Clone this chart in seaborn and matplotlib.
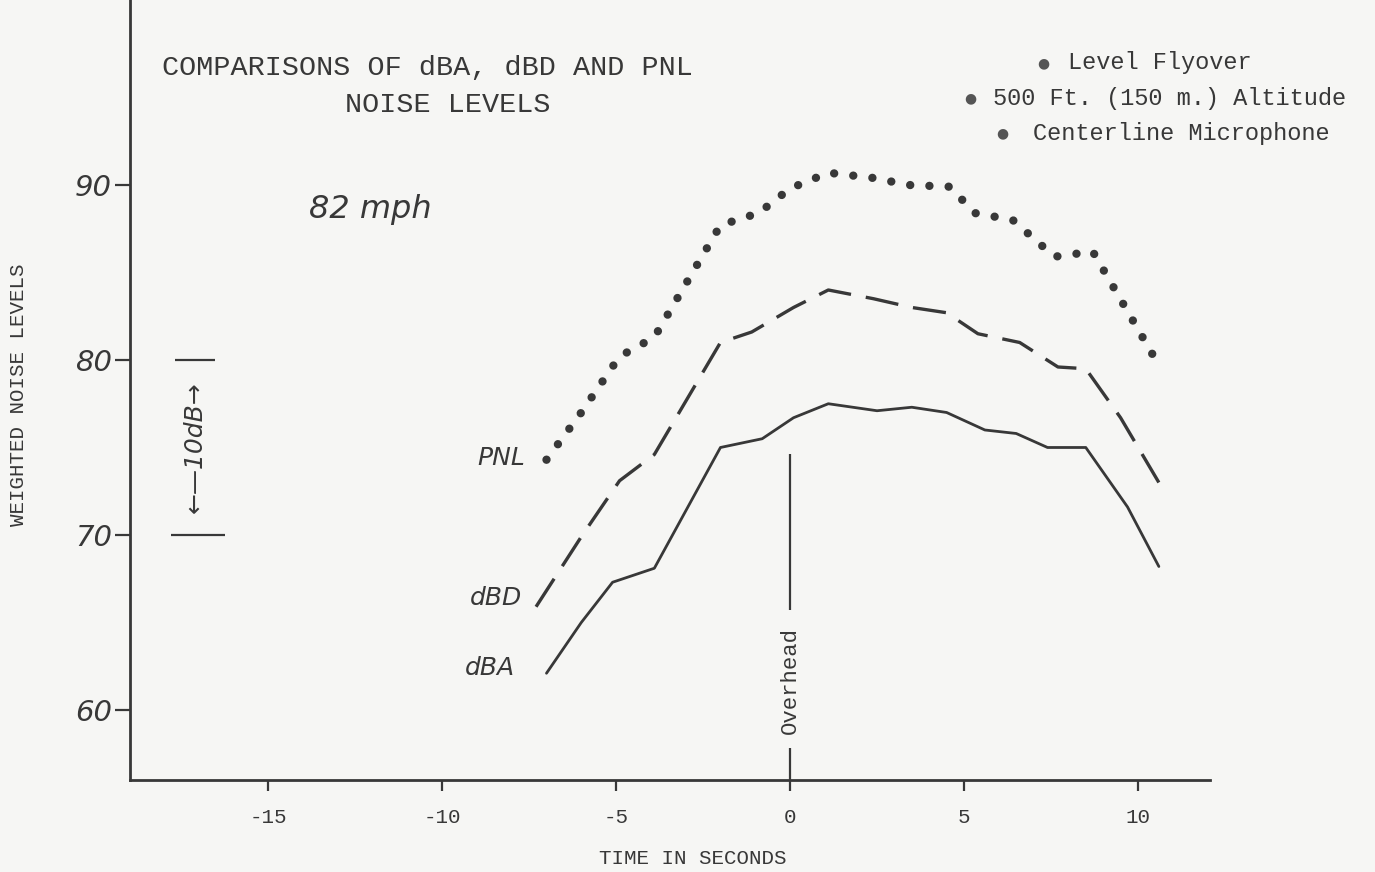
import matplotlib
matplotlib.use("Agg")
import matplotlib.pyplot as plt
import seaborn as sns

# ---- data ----
pnl_time = [-7.0, -6.0, -4.9, -3.9, -2.0, -0.9, 0.0, 1.1, 2.4, 3.4, 4.6, 5.3, 6.4, 7.6, 8.7, 10.6]
pnl_level = [74.3, 77.0, 80.2, 81.3, 87.7, 88.4, 89.8, 90.7, 90.4, 90.0, 89.9, 88.4, 88.0, 85.9, 86.2, 79.7]

dbd_time = [-7.3, -6.0, -4.9, -3.9, -2.0, -1.1, 0.1, 1.1, 2.4, 3.5, 4.5, 5.4, 6.6, 7.7, 8.5, 9.5, 10.6]
dbd_level = [65.9, 69.9, 73.1, 74.6, 81.0, 81.6, 83.0, 84.0, 83.5, 83.0, 82.7, 81.5, 81.0, 79.6, 79.5, 76.7, 73.0]

dba_time = [-7.0, -6.0, -5.1, -3.9, -2.0, -0.8, 0.1, 1.1, 2.5, 3.5, 4.5, 5.6, 6.5, 7.4, 8.5, 9.7, 10.6]
dba_level = [62.1, 65.0, 67.3, 68.1, 75.0, 75.5, 76.7, 77.5, 77.1, 77.3, 77.0, 76.0, 75.8, 75.0, 75.0, 71.6, 68.2]

x_ticks = [-15, -10, -5, 0, 5, 10]
y_ticks = [60, 70, 80, 90]
y_tick_labels = ["60", "70", "80", "90"]

title_lines = ["COMPARISONS OF dBA, dBD AND PNL", "NOISE LEVELS"]
notes = ["Level Flyover", "500 Ft. (150 m.) Altitude", "Centerline Microphone"]

# ---- style ----
sns.set_theme(style="white")
paper = "#f6f6f4"
ink = "#383838"
plt.rcParams["font.family"] = ["Liberation Mono", "DejaVu Sans"]
plt.rcParams["axes.unicode_minus"] = False
hand = dict(family=["DejaVu Sans"], style="italic", color=ink)
mono = ["Liberation Mono", "DejaVu Sans"]

fig = plt.figure(figsize=(13.75, 8.72), dpi=100, facecolor=paper)
ax = fig.add_axes([130 / 1375, 1 - 780 / 872, 1080 / 1375, 780 / 872])
ax.set_facecolor(paper)

sns.lineplot(x=pnl_time, y=pnl_level, ax=ax, color=ink, linewidth=6.0)
ln = ax.lines[-1]
ln.set_linestyle((0, (0.01, 2.3)))
ln.set_dash_capstyle("round")

sns.lineplot(x=dbd_time, y=dbd_level, ax=ax, color=ink, linewidth=2.4)
ln = ax.lines[-1]
ln.set_linestyle((0, (10, 4.5)))

sns.lineplot(x=dba_time, y=dba_level, ax=ax, color=ink, linewidth=2.0)

ax.set_xlim(-18.97, 12.07)
ax.set_ylim(56.0, 100.57)

# spines / ticks
for side in ["top", "right"]:
    ax.spines[side].set_visible(False)
for side in ["left", "bottom"]:
    ax.spines[side].set_color(ink)
    ax.spines[side].set_linewidth(2.0)

ax.set_xticks(x_ticks)
ax.set_xticklabels([str(t) for t in x_ticks], fontsize=15, family=mono, color=ink)
ax.set_yticks(y_ticks)
ax.set_yticklabels(y_tick_labels, fontsize=21, **hand)
ax.tick_params(axis="x", bottom=True, direction="out", length=8, width=1.6, color=ink, pad=12)
ax.tick_params(axis="y", left=True, direction="out", length=11, width=1.6, color=ink, pad=2)

ax.set_xlabel("TIME IN SECONDS", fontsize=15, family=mono, color=ink)
ax.xaxis.label.set_va("center")
ax.xaxis.set_label_coords((693 - 130) / 1080, (780 - 858) / 780)
ax.set_ylabel("WEIGHTED NOISE LEVELS", fontsize=15, family=mono, color=ink)
ax.yaxis.label.set_va("center")
ax.yaxis.set_label_coords((18 - 130) / 1080, (780 - 395) / 780)

# overhead marker
ax.vlines(0, 65.7, 74.6, color=ink, linewidth=1.6)
ax.vlines(0, 56.0, 57.8, color=ink, linewidth=1.6)
ax.text(0, 61.7, "Overhead", rotation=90, ha="center", va="center",
        fontsize=16, family=mono, color=ink)

# curve labels (handwritten in the original)
ax.text(-8.3, 74.4, "PNL", fontsize=18, ha="center", va="center", **hand)
ax.text(-8.45, 66.4, "dBD", fontsize=18, ha="center", va="center", **hand)
ax.text(-8.62, 62.4, "dBA", fontsize=18, ha="center", va="center", **hand)
ax.text(-12.07, 88.6, "82 mph", fontsize=23, ha="center", va="center", **hand)

# 10 dB scale bar
ax.hlines(80, -17.67, -16.52, color=ink, linewidth=1.6)
ax.hlines(70, -17.8, -16.24, color=ink, linewidth=1.6)
ax.vlines(-17.7, 70, 80, color=ink, linewidth=0)
ax.text(-17.1, 75.0, "\u2190\u201410dB\u2192", rotation=90, ha="center", va="center",
        fontsize=18, **hand)

# title
fig.text(162 / 1375, 1 - 68 / 872, title_lines[0], ha="left", va="center",
         fontsize=20.5, family=mono, color=ink)
fig.text(345 / 1375, 1 - 105 / 872, title_lines[1], ha="left", va="center",
         fontsize=20.5, family=mono, color=ink)

# bullet notes
bullet_x = [1043, 970, 1002]
text_x = [1068, 993, 1033]
rows_y = [63, 98, 133]
for bx, tx, ry, s in zip(bullet_x, text_x, rows_y, notes):
    fig.text(bx / 1375, 1 - ry / 872, "\u25cf", ha="center", va="center",
             fontsize=10, family=["DejaVu Sans"], color="#555555")
    fig.text(tx / 1375, 1 - ry / 872, s, ha="left", va="center",
             fontsize=17, family=mono, color=ink)

fig.savefig("out.png", dpi=100, facecolor=paper)
